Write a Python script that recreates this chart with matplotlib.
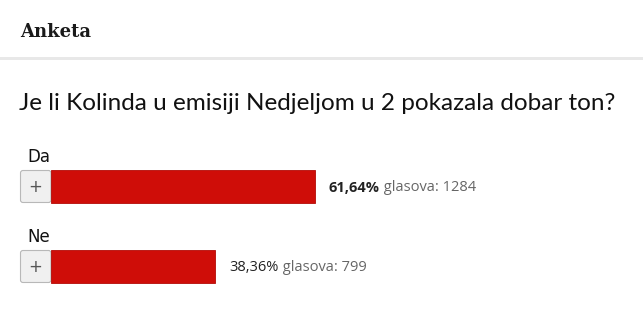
import matplotlib.pyplot as plt
from matplotlib.patches import FancyBboxPatch, Rectangle

W, H = 643, 315

header = "Anketa"
question = "Je li Kolinda u emisiji Nedjeljom u 2 pokazala dobar ton?"
options = ["Da", "Ne"]
percents = [61.64, 38.36]
votes = [1284, 799]

RED = "#cf0d08"

fig = plt.figure(figsize=(W / 100, H / 100), dpi=100)
fig.patch.set_facecolor("white")

# overlay axes in pixel coordinates for the page furniture
page = fig.add_axes([0, 0, 1, 1])
page.set_xlim(0, W)
page.set_ylim(H, 0)
page.axis("off")

page.text(20, 32, header, fontsize=13, fontweight="bold", family="DejaVu Serif",
          color="#1a1a1a", va="center", ha="left")
page.add_patch(Rectangle((0, 57), W, 3, color="#e8e8e8", lw=0))
page.text(19, 104, question, fontsize=17.5, family="Lato", color="#111111",
          va="center", ha="left")

# bar axes: x in percent, 100% spans ~428px starting at x=51
x0, span = 51, 428
rows_y = [186.5, 266.5]
bar_h = 33
bax = fig.add_axes([x0 / W, 0, span / W, 1])
bax.set_xlim(0, 100)
bax.set_ylim(H, 0)
bax.axis("off")
bax.barh(rows_y, percents, height=bar_h, left=0, color=RED, edgecolor="#b30a06",
         linewidth=0.6)

for y, name, pct, n in zip(rows_y, options, percents, votes):
    page.text(27, y - 30, name, fontsize=12, family="DejaVu Sans", color="#111111",
              va="center", ha="left")
    box = FancyBboxPatch((20.5, y - bar_h / 2 + 0.5), 30.5, bar_h - 1,
                         boxstyle="round,pad=0,rounding_size=2.5",
                         facecolor="#f0f0f0", edgecolor="#b8b8b8", lw=0.8)
    page.add_patch(box)
    page.text(35.5, y + 1, "+", fontsize=12, family="DejaVu Sans", color="#555555",
              va="center", ha="center")

    end_px = x0 + pct / 100 * span
    bold = pct == max(percents)
    t = page.text(end_px + 14, y + 1, f"{pct:.2f}%".replace(".", ","), fontsize=10.5,
                  family="Open Sans", fontweight="bold" if bold else "normal",
                  color="#222222", va="center", ha="left")
    page.annotate(f" glasova: {n}", xy=(1, 0.5), xycoords=t, fontsize=10.5,
                  family="Open Sans", color="#666666", va="center", ha="left")

fig.savefig("out.png", dpi=100)
